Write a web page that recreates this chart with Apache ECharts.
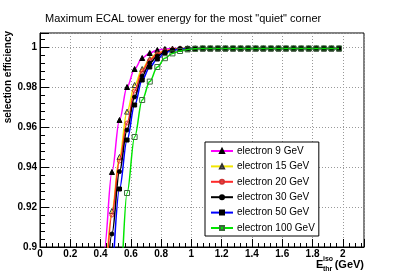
<!DOCTYPE html>
<html>
<head>
<meta charset="utf-8">
<script src="https://cdn.jsdelivr.net/npm/echarts@6/dist/echarts.min.js"></script>
<style>
html,body{margin:0;padding:0;background:#fff;}
#chart{width:407px;height:275px;}
</style>
</head>
<body>
<div id="chart"></div>
<script>
// x positions of the points (GeV)
var xs = [0.375,0.425,0.475,0.525,0.575,0.625,0.675,0.725,0.775,0.825,0.875,0.925,0.975,
  1.025,1.075,1.125,1.175,1.225,1.275,1.325,1.375,1.425,1.475,1.525,1.575,1.625,1.675,1.725,1.775,1.825,1.875,1.925,1.975];

var seriesNames = ['electron 9 GeV','electron 15 GeV','electron 20 GeV','electron 30 GeV','electron 50 GeV','electron 100 GeV'];

var eff9   = [0.84,0.899,0.9375,0.9635,0.980,0.989,0.9945,0.997,0.9985,0.999,0.9992,0.9993,0.9993,
  0.9993,0.9993,0.9993,0.9993,0.9993,0.9993,0.9993,0.9993,0.9993,0.9993,0.9993,0.9993,0.9993,0.9993,0.9993,0.9993,0.9993,0.9993,0.9993,0.9993];
var eff15  = [null,0.87,0.918,0.945,0.9677,0.981,0.989,0.994,0.997,0.998,0.9989,0.9992,0.9993,
  0.9993,0.9993,0.9993,0.9993,0.9993,0.9993,0.9993,0.9993,0.9993,0.9993,0.9993,0.9993,0.9993,0.9993,0.9993,0.9993,0.9993,0.9993,0.9993,0.9993];
var eff20  = [null,0.865,0.916,0.943,0.962,0.978,0.988,0.9935,0.9965,0.998,0.9988,0.9991,0.9993,
  0.9993,0.9993,0.9993,0.9993,0.9993,0.9993,0.9993,0.9993,0.9993,0.9993,0.9993,0.9993,0.9993,0.9993,0.9993,0.9993,0.9993,0.9993,0.9993,0.9993];
var eff30  = [null,0.86,0.9065,0.9377,0.9585,0.975,0.9855,0.992,0.9955,0.9975,0.9985,0.999,0.9993,
  0.9993,0.9993,0.9993,0.9993,0.9993,0.9993,0.9993,0.9993,0.9993,0.9993,0.9993,0.9993,0.9993,0.9993,0.9993,0.9993,0.9993,0.9993,0.9993,0.9993];
var eff50  = [null,null,0.878,0.929,0.9535,0.971,0.9835,0.990,0.994,0.997,0.9983,0.999,0.9993,
  0.9993,0.9993,0.9993,0.9993,0.9993,0.9993,0.9993,0.9993,0.9993,0.9993,0.9993,0.9993,0.9993,0.9993,0.9993,0.9993,0.9993,0.9993,0.9993,0.9993];
var eff100 = [null,null,0.82,0.876,0.927,0.955,0.9735,0.9827,0.990,0.9944,0.9968,0.998,0.9988,
  0.9991,0.9993,0.9993,0.9993,0.9993,0.9993,0.9993,0.9993,0.9993,0.9993,0.9993,0.9993,0.9993,0.9993,0.9993,0.9993,0.9993,0.9993,0.9993,0.9993];

var allEff = [eff9, eff15, eff20, eff30, eff50, eff100];

var lineColors = ['#ff00ff','#f2e600','#ff2a2a','#000000','#0000ff','#00e600'];
var symbols = ['triangle','triangle','circle','circle','rect','rect'];
var symSizes = [5,5,4,4,4,5];
var fills = ['#000000','rgba(0,0,0,0)','rgba(0,0,0,0)','#000000','#000000','rgba(0,0,0,0)'];
var borders = ['#000000','#333333','#cc3333','#000000','#000000','#3a6a3a'];

var series = allEff.map(function(arr, k){
  return {
    name: seriesNames[k],
    type: 'line',
    data: xs.map(function(x,i){ return [x, arr[i]]; }),
    smooth: 0.35,
    smoothMonotone: 'x',
    symbol: symbols[k],
    symbolSize: symSizes[k],
    showAllSymbol: true,
    clip: true,
    lineStyle: {color: lineColors[k], width: 1.5},
    itemStyle: {color: fills[k], borderColor: borders[k], borderWidth: 1},
    emphasis: {disabled: true},
    z: 2 + k
  };
});

var chart = echarts.init(document.getElementById('chart'), null, {renderer:'canvas'});
var fontFam = 'Liberation Sans, Arial, Helvetica, sans-serif';
chart.setOption({
  animation: false,
  backgroundColor: '#ffffff',
  title: {
    text: 'Maximum ECAL tower energy for the most "quiet" corner',
    left: 40, top: 8,
    textStyle: {fontFamily: fontFam, fontSize: 11, fontWeight: 'normal', color: '#000'}
  },
  grid: {left: 40, right: 43, top: 33, bottom: 28, show: true, borderColor: '#000', borderWidth: 1, backgroundColor: 'transparent'},
  legend: {
    data: seriesNames,
    orient: 'vertical',
    left: 205, top: 142,
    padding: [4, 4, 3, 5],
    itemGap: 5.4,
    itemWidth: 22, itemHeight: 5,
    backgroundColor: '#fff',
    borderColor: '#000', borderWidth: 1,
    textStyle: {fontFamily: fontFam, fontSize: 10, color: '#000', padding: [0,0,0,-1]},
    selectedMode: false
  },
  xAxis: {
    type: 'value', min: 0, max: 2.14, interval: 0.2,
    axisLine: {show: true, onZero: false, lineStyle: {color: '#000', width: 1}},
    axisTick: {show: true, inside: true, length: 8, lineStyle: {color: '#000'}},
    minorTick: {show: true, splitNumber: 5, length: 4, lineStyle: {color: '#000'}},
    axisLabel: {fontFamily: fontFam, fontSize: 10, fontWeight: 'bold', color: '#000', margin: 2, showMaxLabel: false},
    splitLine: {show: true, lineStyle: {color: '#999', type: [1,2], width: 1}}
  },
  yAxis: {
    type: 'value', min: 0.9, max: 1.007, interval: 0.02,
    axisLine: {show: true, onZero: false, lineStyle: {color: '#000', width: 1}},
    axisTick: {show: true, inside: true, length: 9, lineStyle: {color: '#000'}},
    minorTick: {show: true, splitNumber: 5, length: 5, lineStyle: {color: '#000'}},
    axisLabel: {fontFamily: fontFam, fontSize: 10, fontWeight: 'bold', color: '#000', margin: 3, showMaxLabel: false,
      formatter: function(v){ if (Math.abs(v-1)<1e-9) return '1'; if (Math.abs(v-0.9)<1e-9) return '0.9'; return v.toFixed(2); }},
    splitLine: {show: true, lineStyle: {color: '#999', type: [1,2], width: 1}}
  },
  graphic: [
    {type: 'text', x: 8, y: 31, rotation: Math.PI/2,
      style: {text: 'selection efficiency', fontFamily: fontFam, fontSize: 10, fontWeight: 'bold', fill: '#000', align: 'right', verticalAlign: 'middle'}},
    {type: 'text', x: 316, y: 265,
      style: {text: 'E', fontFamily: fontFam, fontSize: 11, fontWeight: 'bold', fill: '#000', align: 'left', verticalAlign: 'middle'}},
    {type: 'text', x: 323, y: 259,
      style: {text: 'iso', fontFamily: fontFam, fontSize: 7, fontWeight: 'bold', fill: '#000', align: 'left', verticalAlign: 'middle'}},
    {type: 'text', x: 323, y: 269,
      style: {text: 'thr', fontFamily: fontFam, fontSize: 7, fontWeight: 'bold', fill: '#000', align: 'left', verticalAlign: 'middle'}},
    {type: 'text', x: 364, y: 265,
      style: {text: '(GeV)', fontFamily: fontFam, fontSize: 11, fontWeight: 'bold', fill: '#000', align: 'right', verticalAlign: 'middle'}}
  ],
  series: series
});
</script>
</body>
</html>
